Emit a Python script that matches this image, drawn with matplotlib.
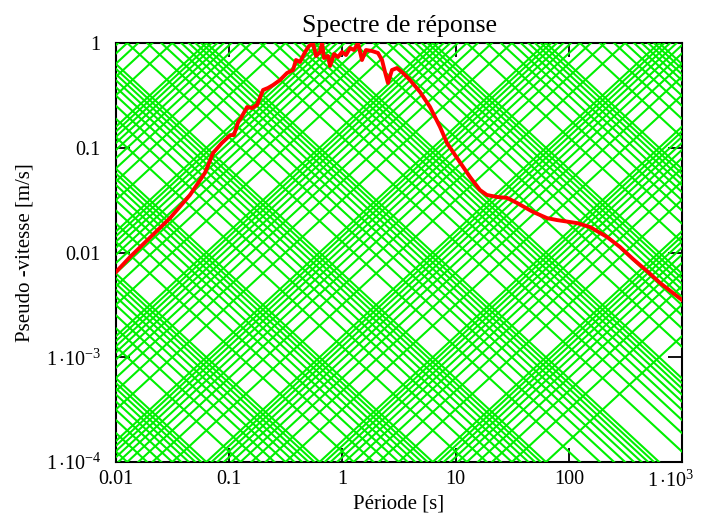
import numpy as np
import matplotlib
matplotlib.use('Agg')
import matplotlib.pyplot as plt
from matplotlib.transforms import ScaledTranslation

plt.rcParams.update({
    'font.family': 'Liberation Serif',
    'mathtext.fontset': 'custom',
    'mathtext.rm': 'Liberation Serif',
    'mathtext.it': 'Liberation Serif:italic',
    'font.size': 14,
})

# response spectrum (period [s], pseudo-velocity [m/s])
period = [0.010, 0.0133, 0.030, 0.045, 0.061, 0.072, 0.086, 0.102, 0.110, 0.120,
          0.127, 0.144, 0.159, 0.176, 0.199, 0.220, 0.244, 0.281, 0.324, 0.366,
          0.389, 0.422, 0.468, 0.507, 0.550, 0.585, 0.634, 0.661, 0.688, 0.746,
          0.777, 0.843, 0.914, 0.991, 1.076, 1.167, 1.265, 1.373, 1.489, 1.615,
          1.824, 2.061, 2.238, 2.377, 2.527, 2.740, 3.035, 3.428, 3.953, 4.850,
          5.943, 7.283, 8.395, 9.88, 13.4, 16.4, 18.9, 23.2, 28.5, 34.9,
          48.3, 64.2, 78.7, 118, 154, 217, 283, 369, 501, 640, 1000]
velocity = [0.00652, 0.00906, 0.0213, 0.0354, 0.0574, 0.0891, 0.111, 0.132, 0.132, 0.176,
            0.192, 0.245, 0.239, 0.256, 0.356, 0.372, 0.397, 0.443, 0.517, 0.552,
            0.688, 0.659, 0.820, 0.936, 1.0, 0.751, 0.820, 1.0, 0.719, 0.751,
            0.603, 0.785, 0.735, 0.820, 0.768, 0.896, 0.857, 1.0, 0.688, 0.857,
            0.839, 0.803, 0.688, 0.529, 0.415, 0.552, 0.577, 0.517, 0.443, 0.341,
            0.245, 0.158, 0.111, 0.0853, 0.0526, 0.0395, 0.0354, 0.0339, 0.0332, 0.0297,
            0.0244, 0.0213, 0.0204, 0.0191, 0.0175, 0.0141, 0.0113, 0.00867, 0.00652, 0.00512, 0.00352]

# tripartite grid: constant displacement [m] and constant acceleration [m/s2]
grid_multipliers = [1, 2, 3, 4, 5, 6, 7, 8, 9]
disp_decades = [-7, -6, -5, -4, -3, -2, -1, 0, 1, 2]
accel_decades = [-5, -4, -3, -2, -1, 0, 1, 2]

x_ticks = [0.01, 0.1, 1, 10, 100, 1000]
x_labels = ['0.01', '0.1', '1', '10', '100', r'$1\,{\cdot}10^{3}$']
y_ticks = [1e-4, 1e-3, 0.01, 0.1, 1]
y_labels = [r'$1\,{\cdot}10^{-4}$', r'$1\,{\cdot}10^{-3}$', '0.01', '0.1', '1']

fig = plt.figure(figsize=(7.01, 5.15), dpi=100)
ax = fig.add_axes([0.1655, 0.1029, 0.8074, 0.8136])
ax.set_xscale('log')
ax.set_yscale('log')
ax.set_xlim(x_ticks[0], x_ticks[-1])
ax.set_ylim(y_ticks[0], y_ticks[-1])

T = np.array([x_ticks[0], x_ticks[-1]])
green = '#00f000'
for k in disp_decades:
    for m in grid_multipliers:
        D = m * 10.0**k
        ax.plot(T, 2 * np.pi * D / T, color=green, lw=1.5, zorder=3)
for k in accel_decades:
    for m in grid_multipliers:
        A = m * 10.0**k
        ax.plot(T, A * T / (2 * np.pi), color=green, lw=1.5, zorder=3)

ax.plot(period, velocity, color='#ff0000', lw=2.8, zorder=4)

ax.set_xticks(x_ticks)
ax.set_xticklabels(x_labels)
ax.set_yticks(y_ticks)
ax.set_yticklabels(y_labels)
ax.minorticks_off()
ax.tick_params(axis='both', which='major', direction='in', length=10, width=1.3,
               top=True, right=True, labelsize=14.5, color='black')
ax.tick_params(axis='x', pad=6)
ax.tick_params(axis='y', pad=11)

# last x label sits a bit left of its tick so it stays inside the figure
last = ax.get_xticklabels()[-1]
last.set_transform(last.get_transform() + ScaledTranslation(-8 / 72, 0, fig.dpi_scale_trans))

for sp in ax.spines.values():
    sp.set_linewidth(1.5)
    sp.set_color('black')

ax.set_title('Spectre de réponse', fontsize=18.5, pad=8)
ax.set_xlabel('Période [s]', fontsize=15, labelpad=2)
ax.set_ylabel('Pseudo -vitesse [m/s]', fontsize=15, labelpad=8)

fig.savefig('out.png', dpi=100)
